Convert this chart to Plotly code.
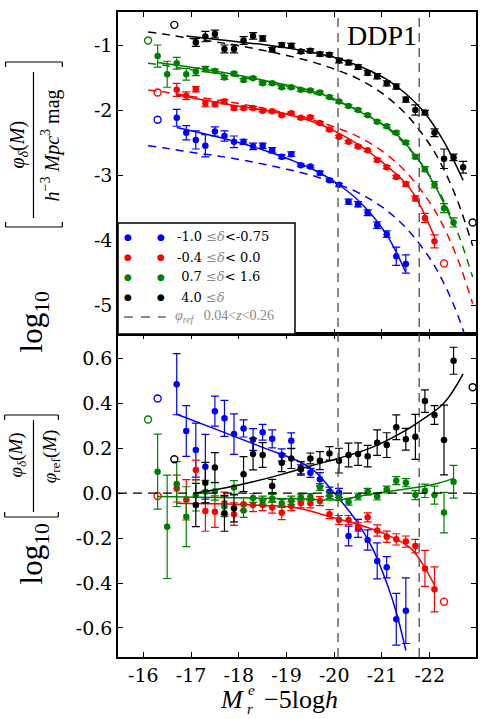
import plotly.graph_objects as go
from plotly.subplots import make_subplots

# ---------------- data ----------------
# --- black: 4.0 <= delta ---
bk_M = [-17.1, -17.3, -17.5, -17.7, -17.9, -18.1, -18.3, -18.5, -18.7, -18.9, -19.1, -19.3, -19.5, -19.7,
        -19.9, -20.1, -20.3, -20.5, -20.7, -20.9, -21.1, -21.3, -21.5, -21.7, -21.9, -22.1, -22.3, -22.5, -22.7]
bk_phi = [-0.96, -0.87, -0.83, -1.06, -1.06, -0.93, -0.86, -0.90, -1.07, -1.00, -1.01, -1.10, -1.09, -1.14,
          -1.15, -1.24, -1.27, -1.34, -1.43, -1.48, -1.59, -1.64, -1.84, -2.00, -2.04, -2.35, -2.75, -2.73, -2.88]
bk_phi_err = [0.06, 0.08, 0.06, 0.06, 0.06, 0.06, 0.05, 0.04, 0.035, 0.035, 0.035, 0.03, 0.03, 0.03,
              0.03, 0.035, 0.035, 0.035, 0.035, 0.04, 0.04, 0.04, 0.04, 0.08, 0.035, 0.06, 0.15, 0.05, 0.09]
bk_rM = bk_M[:-1]
bk_ratio = [-0.053, 0.046, 0.113, -0.09, -0.068, 0.084, 0.173, 0.169, 0.031, 0.135, 0.154, 0.11, 0.154, 0.144,
            0.176, 0.144, 0.169, 0.173, 0.164, 0.224, 0.213, 0.292, 0.239, 0.25, 0.409, 0.347, 0.236, 0.588]
bk_ratio_err = [0.096, 0.09, 0.067, 0.08, 0.06, 0.078, 0.07, 0.055, 0.03, 0.04, 0.045, 0.03, 0.024, 0.04,
                0.03, 0.055, 0.053, 0.05, 0.048, 0.057, 0.055, 0.055, 0.048, 0.1, 0.05, 0.042, 0.155, 0.06]
bk_open_M = [-16.65, -22.9]
bk_open_phi = [-0.69, -3.73]
bk_open_ratio = [0.15, 0.47]
bk_fit_M = [-16.9, -17.5, -18.1, -18.7, -19.3, -19.9, -20.3, -20.7, -21.1, -21.5, -21.9, -22.3, -22.7]
bk_fit_phi = [-0.86, -0.91, -0.96, -1.01, -1.08, -1.17, -1.26, -1.38, -1.53, -1.75, -2.05, -2.49, -3.08]
bk_rfit_M = [-17.1, -17.7, -18.3, -18.9, -19.5, -20.1, -20.7, -21.3, -21.8, -22.3, -22.7]
bk_rfit = [0.0, 0.022, 0.05, 0.083, 0.12, 0.155, 0.195, 0.255, 0.32, 0.40, 0.53]

# --- green: 0.7 <= delta < 1.6 ---
gr_M = [-16.3, -16.5, -16.7, -16.9, -17.1, -17.3, -17.5, -17.7, -17.9, -18.1, -18.3, -18.5, -18.7, -18.9,
        -19.1, -19.3, -19.5, -19.7, -19.9, -20.1, -20.3, -20.5, -20.7, -20.9, -21.1, -21.3, -21.5, -21.7,
        -21.9, -22.1, -22.3, -22.5]
gr_phi = [-1.17, -1.45, -1.28, -1.45, -1.41, -1.37, -1.40, -1.50, -1.44, -1.54, -1.51, -1.59, -1.59, -1.65,
          -1.65, -1.69, -1.70, -1.73, -1.80, -1.87, -1.94, -2.00, -2.08, -2.18, -2.25, -2.35, -2.50, -2.72,
          -2.91, -3.15, -3.51, -3.73]
gr_phi_err = [0.17, 0.2, 0.09, 0.09, 0.06, 0.04, 0.03, 0.03, 0.025, 0.025, 0.02, 0.02, 0.02, 0.02,
              0.02, 0.02, 0.02, 0.02, 0.02, 0.02, 0.02, 0.02, 0.02, 0.02, 0.025, 0.025, 0.025, 0.03,
              0.04, 0.05, 0.07, 0.07]
gr_ratio = [0.095, -0.15, 0.04, -0.105, -0.01, 0.006, 0.008, -0.06, 0.025, -0.078, -0.022, -0.034, -0.024, -0.046,
            -0.032, -0.02, -0.018, 0.027, -0.01, -0.019, -0.039, -0.016, 0.006, -0.016, 0.016, 0.055, 0.046, -0.009,
            0.01, -0.009, -0.087, 0.05]
gr_ratio_err = [0.167, 0.23, 0.1, 0.133, 0.07, 0.05, 0.04, 0.045, 0.03, 0.03, 0.02, 0.02, 0.018, 0.018,
                0.018, 0.015, 0.015, 0.015, 0.015, 0.015, 0.015, 0.015, 0.015, 0.015, 0.015, 0.018, 0.018, 0.02,
                0.03, 0.04, 0.09, 0.073]
gr_open_M = [-16.1]
gr_open_phi = [-0.93]
gr_open_ratio = [0.327]
gr_fit_M = [-16.3, -16.9, -17.5, -18.1, -18.7, -19.3, -19.9, -20.3, -20.9, -21.3, -21.7, -22.1, -22.5]
gr_fit_phi = [-1.27, -1.33, -1.40, -1.48, -1.57, -1.66, -1.80, -1.94, -2.17, -2.37, -2.70, -3.15, -3.76]
gr_rfit_M = [-16.3, -17.5, -18.5, -19.3, -20.1, -20.5, -20.9, -21.4, -21.8, -22.2, -22.5]
gr_rfit = [-0.015, -0.02, -0.023, -0.026, -0.03, -0.015, 0.0, 0.015, 0.028, 0.045, 0.065]

# --- red: -0.4 <= delta < 0.0 ---
rd_M = [-16.7, -16.9, -17.1, -17.3, -17.5, -17.7, -17.9, -18.1, -18.3, -18.5, -18.7, -18.9, -19.1, -19.3,
        -19.5, -19.7, -19.9, -20.1, -20.3, -20.5, -20.7, -20.9, -21.1, -21.3, -21.5, -21.7, -21.9, -22.1]
rd_phi = [-1.69, -1.78, -1.68, -1.90, -1.91, -1.87, -1.97, -1.97, -1.97, -2.01, -2.02, -2.08, -2.05, -2.12,
          -2.11, -2.20, -2.30, -2.41, -2.49, -2.56, -2.62, -2.77, -2.88, -3.03, -3.14, -3.36, -3.66, -4.02]
rd_phi_err = [0.10, 0.06, 0.04, 0.05, 0.04, 0.035, 0.03, 0.025, 0.025, 0.02, 0.02, 0.02, 0.02, 0.02,
              0.02, 0.02, 0.02, 0.02, 0.02, 0.02, 0.02, 0.025, 0.025, 0.025, 0.03, 0.04, 0.07, 0.10]
rd_ratio = [0.02, -0.03, 0.102, -0.08, -0.083, -0.046, -0.094, -0.05, -0.053, -0.053, -0.064, -0.088, -0.058, -0.046,
            -0.046, -0.036, -0.094, -0.12, -0.12, -0.15, -0.108, -0.167, -0.194, -0.206, -0.216, -0.236, -0.335, -0.428]
rd_ratio_err = [0.06, 0.09, 0.044, 0.09, 0.07, 0.05, 0.05, 0.03, 0.03, 0.025, 0.025, 0.03, 0.02, 0.02,
                0.02, 0.02, 0.02, 0.02, 0.02, 0.02, 0.02, 0.025, 0.025, 0.025, 0.025, 0.03, 0.08, 0.1]
rd_open_M = [-16.3, -22.3]
rd_open_phi = [-1.73, -4.36]
rd_open_ratio = [-0.013, -0.483]
rd_fit_M = [-16.7, -17.3, -17.9, -18.5, -19.1, -19.7, -20.1, -20.5, -21.1, -21.5, -21.7, -21.9, -22.1]
rd_fit_phi = [-1.77, -1.85, -1.93, -2.00, -2.08, -2.22, -2.36, -2.53, -2.86, -3.13, -3.33, -3.62, -3.95]
rd_rfit_M = [-16.7, -17.5, -18.5, -19.2, -19.9, -20.5, -21.1, -21.6, -21.85, -22.1]
rd_rfit = [-0.045, -0.048, -0.055, -0.065, -0.105, -0.14, -0.185, -0.245, -0.315, -0.41]

# --- blue: -1.0 <= delta < -0.75 ---
bl_M = [-16.7, -16.9, -17.1, -17.3, -17.5, -17.7, -17.9, -18.1, -18.3, -18.5, -18.7, -18.9, -19.1, -19.3,
        -19.5, -19.7, -19.9, -20.1, -20.3, -20.5, -20.7, -20.9, -21.1, -21.3, -21.5]
bl_phi = [-2.12, -2.35, -2.46, -2.55, -2.33, -2.40, -2.49, -2.49, -2.56, -2.55, -2.62, -2.72, -2.68, -2.85,
          -2.87, -2.97, -3.08, -3.15, -3.41, -3.45, -3.58, -3.77, -3.91, -4.25, -4.37]
bl_phi_err = [0.13, 0.11, 0.14, 0.17, 0.07, 0.08, 0.09, 0.04, 0.05, 0.04, 0.04, 0.03, 0.035, 0.02,
              0.02, 0.03, 0.02, 0.02, 0.04, 0.04, 0.045, 0.05, 0.05, 0.14, 0.14]
bl_ratio = [0.484, 0.276, 0.191, 0.117, 0.364, 0.332, 0.262, 0.287, 0.238, 0.27, 0.241, 0.169, 0.232, 0.105,
            0.09, 0.061, 0.006, 0.001, -0.191, -0.157, -0.209, -0.302, -0.33, -0.561, -0.523]
bl_ratio_err = [0.136, 0.113, 0.12, 0.144, 0.067, 0.08, 0.09, 0.038, 0.048, 0.035, 0.04, 0.027, 0.035, 0.02,
                0.02, 0.03, 0.02, 0.02, 0.044, 0.04, 0.045, 0.08, 0.047, 0.115, 0.146]
bl_open_M = [-16.3]
bl_open_phi = [-2.15]
bl_open_ratio = [0.42]
bl_fit_M = [-16.7, -17.3, -17.9, -18.5, -19.1, -19.6, -20.1, -20.6, -21.1, -21.5]
bl_fit_phi = [-2.27, -2.37, -2.48, -2.61, -2.77, -2.93, -3.15, -3.46, -3.92, -4.50]
bl_rfit_M = [-16.7, -17.5, -18.5, -19.3, -19.6, -19.9, -20.2, -20.5, -20.8, -21.1, -21.3, -21.5]
bl_rfit = [0.35, 0.285, 0.203, 0.137, 0.095, 0.025, -0.05, -0.135, -0.245, -0.40, -0.53, -0.70]

# --- reference LF (dashed), rescaled to each sample ---
ref_M = [-16.1, -16.5, -17.0, -17.5, -18.0, -18.5, -19.0, -19.5, -20.0, -20.5, -21.0, -21.5, -22.0, -22.3, -22.6, -22.9]
ref_bk = [-0.80, -0.84, -0.90, -0.95, -1.01, -1.08, -1.16, -1.25, -1.37, -1.52, -1.74, -2.06, -2.53, -2.92, -3.43, -4.09]
ref_gr = [-1.28, -1.32, -1.38, -1.43, -1.49, -1.56, -1.64, -1.73, -1.85, -2.00, -2.22, -2.54, -3.01, -3.40, -3.91, -4.57]
ref_rd = [-1.69, -1.73, -1.79, -1.84, -1.90, -1.97, -2.05, -2.14, -2.26, -2.41, -2.63, -2.95, -3.42, -3.81, -4.32, -4.98]
ref_bl = [-2.55, -2.59, -2.65, -2.70, -2.76, -2.83, -2.91, -3.00, -3.12, -3.27, -3.49, -3.81, -4.28, -4.67, -5.18, -5.84]

# completeness limits (vertical dashed lines)
mag_limits = [-20.08, -21.78]

# ticks
x_ticks = [-16, -17, -18, -19, -20, -21, -22]
x_ticklabels = ["-16", "-17", "-18", "-19", "-20", "-21", "-22"]
top_ticks = [-1, -2, -3, -4, -5]
top_ticklabels = ["-1", "-2", "-3", "-4", "-5"]
bot_ticks = [0.6, 0.4, 0.2, 0.0, -0.2, -0.4, -0.6]
bot_ticklabels = ["0.6", "0.4", "0.2", "0.0", "-0.2", "-0.4", "-0.6"]

legend_labels = [
    "-1.0 <span style='color:#8a8a8a'>≤<i>δ</i></span>&lt;-0.75",
    "-0.4 <span style='color:#8a8a8a'>≤<i>δ</i></span>&lt; 0.0",
    " 0.7 <span style='color:#8a8a8a'>≤<i>δ</i></span>&lt; 1.6",
    " 4.0 <span style='color:#8a8a8a'>≤<i>δ</i></span>",
]

# ---------------- geometry ----------------
W, H = 483, 719
ML, MR, MT, MB = 118, 5, 12, 62
PW, PH = W - ML - MR, H - MT - MB


def px(x):
    return (x - ML) / PW


def py(y):
    return (H - MB - y) / PH


BLUE, RED, GREEN, BLACK = "#0000ff", "#ff0000", "#008000", "#000000"
SERIF = "Liberation Serif"
TICKFONT = dict(family="DejaVu Serif", size=19, color="black")

fig = make_subplots(rows=2, cols=1, shared_xaxes=True, vertical_spacing=0,
                    row_heights=[322 / 645, 323 / 645])

samples = [
    (BLUE, bl_M, bl_phi, bl_phi_err, bl_ratio, bl_ratio_err, bl_open_M, bl_open_phi, bl_open_ratio,
     bl_fit_M, bl_fit_phi, bl_rfit_M, bl_rfit, ref_bl),
    (RED, rd_M, rd_phi, rd_phi_err, rd_ratio, rd_ratio_err, rd_open_M, rd_open_phi, rd_open_ratio,
     rd_fit_M, rd_fit_phi, rd_rfit_M, rd_rfit, ref_rd),
    (GREEN, gr_M, gr_phi, gr_phi_err, gr_ratio, gr_ratio_err, gr_open_M, gr_open_phi, gr_open_ratio,
     gr_fit_M, gr_fit_phi, gr_rfit_M, gr_rfit, ref_gr),
    (BLACK, bk_M, bk_phi, bk_phi_err, bk_ratio, bk_ratio_err, bk_open_M, bk_open_phi, bk_open_ratio,
     bk_fit_M, bk_fit_phi, bk_rfit_M, bk_rfit, ref_bk),
]

for (col, M, phi, phie, rat, rate, oM, ophi, orat, fM, fphi, rfM, rf, ref) in samples:
    rM = M if col != BLACK else bk_rM
    # reference (dashed) in top panel
    fig.add_trace(go.Scatter(x=ref_M, y=ref, mode="lines", showlegend=False,
                             line=dict(color=col, width=1.5, dash="8px,6px", shape="spline")), row=1, col=1)
    # fits
    fig.add_trace(go.Scatter(x=fM, y=fphi, mode="lines", showlegend=False,
                             line=dict(color=col, width=1.5, shape="spline")), row=1, col=1)
    fig.add_trace(go.Scatter(x=rfM, y=rf, mode="lines", showlegend=False,
                             line=dict(color=col, width=1.5, shape="spline")), row=2, col=1)
    # data
    fig.add_trace(go.Scatter(x=M, y=phi, mode="markers", showlegend=False,
                             marker=dict(color=col, size=6.5),
                             error_y=dict(type="data", array=phie, color=col, thickness=1.2, width=4)),
                  row=1, col=1)
    fig.add_trace(go.Scatter(x=rM, y=rat, mode="markers", showlegend=False,
                             marker=dict(color=col, size=6.5),
                             error_y=dict(type="data", array=rate, color=col, thickness=1.2, width=4)),
                  row=2, col=1)
    # open circles
    fig.add_trace(go.Scatter(x=oM, y=ophi, mode="markers", showlegend=False,
                             marker=dict(symbol="circle-open", color=col, size=7, line=dict(width=1.4))),
                  row=1, col=1)
    fig.add_trace(go.Scatter(x=oM, y=orat, mode="markers", showlegend=False,
                             marker=dict(symbol="circle-open", color=col, size=7, line=dict(width=1.4))),
                  row=2, col=1)

axis_common = dict(ticks="inside", ticklen=5, tickwidth=1, tickcolor="black", showline=True,
                   linecolor="black", linewidth=1.5, mirror="ticks", showgrid=False, zeroline=False,
                   tickfont=TICKFONT)
fig.update_xaxes(range=[-15.47, -22.97], tickvals=x_ticks, ticktext=x_ticklabels, **axis_common)
fig.update_xaxes(showticklabels=False, row=1, col=1)
fig.update_yaxes(range=[-5.446, -0.492], tickvals=top_ticks, ticktext=top_ticklabels, row=1, col=1,
                 **axis_common)
fig.update_yaxes(range=[-0.729, 0.707], tickvals=bot_ticks, ticktext=bot_ticklabels, row=2, col=1,
                 **axis_common)

shapes = []
# completeness limits through both panels
for m in mag_limits:
    shapes.append(dict(type="line", xref="x", yref="paper", x0=m, x1=m, y0=0, y1=1,
                       line=dict(color="#4d4d4d", width=1.3, dash="9px,6px")))
# zero line in ratio panel
shapes.append(dict(type="line", xref="paper", yref="y2", x0=0, x1=1, y0=0, y1=0,
                   line=dict(color="black", width=1.3, dash="9px,6px")))

# legend box
shapes.append(dict(type="rect", xref="paper", yref="paper", x0=px(118), x1=px(296), y0=py(334), y1=py(223),
                   line=dict(color="black", width=1.5), fillcolor="white", layer="above"))
shapes.append(dict(type="line", xref="paper", yref="paper", x0=px(124), x1=px(166), y0=py(317), y1=py(317),
                   line=dict(color="#8a8a8a", width=2.2, dash="9px,8px"), layer="above"))

annotations = []
leg_rows = [237, 257, 277, 297]
for (col, lab, yy) in zip([BLUE, RED, GREEN, BLACK], legend_labels, leg_rows):
    for xx in (128, 161):
        annotations.append(dict(x=px(xx), y=py(yy), xref="paper", yref="paper", text="●", showarrow=False,
                                font=dict(family="DejaVu Sans", size=9, color=col),
                                xanchor="center", yanchor="middle"))
    annotations.append(dict(x=px(176), y=py(yy), xref="paper", yref="paper", text=lab, showarrow=False,
                            font=dict(family="DejaVu Serif", size=13, color="black"),
                            xanchor="left", yanchor="middle"))
annotations.append(dict(x=px(174), y=py(317), xref="paper", yref="paper",
                        text="<i>φ<sub>ref</sub></i>   0.04&lt;<i>z</i>&lt;0.26", showarrow=False,
                        font=dict(family=SERIF, size=14, color="#8a8a8a"), xanchor="left", yanchor="middle"))

# panel label
annotations.append(dict(x=px(383), y=py(35), xref="paper", yref="paper", text="DDP1", showarrow=False,
                        font=dict(family=SERIF, size=28, color="black"), xanchor="center", yanchor="middle"))

# x-axis title  (M with stacked super/subscript, then -5 log h)
annotations += [
    dict(x=px(246), y=py(699), text="<i>M</i>", font=dict(family=SERIF, size=26, color="black"),
         xanchor="right"),
    dict(x=px(248), y=py(690), text="<i>e</i>", font=dict(family=SERIF, size=15, color="black"),
         xanchor="left"),
    dict(x=px(247), y=py(709), text="<i>r</i>", font=dict(family=SERIF, size=15, color="black"),
         xanchor="left"),
    dict(x=px(264), y=py(699), text="−5log<i>h</i>", font=dict(family=SERIF, size=26, color="black"),
         xanchor="left"),
]

# y-axis title (top): log10 [ phi_delta(M) / h^-3 Mpc^3 mag ]
annotations += [
    dict(x=px(34), y=py(322), text="log<sub>10</sub>", textangle=-90,
         font=dict(family=SERIF, size=31, color="black")),
    dict(x=px(17), y=py(145), text="<i>φ<sub>δ</sub></i>(<i>M</i>)", textangle=-90,
         font=dict(family=SERIF, size=20, color="black")),
    dict(x=px(50), y=py(145), text="<i>h</i><sup>−3</sup> <i>Mpc</i><sup>3</sup> mag", textangle=-90,
         font=dict(family=SERIF, size=20, color="black")),
]
# y-axis title (bottom): log10 [ phi_delta(M) / phi_ref(M) ]
annotations += [
    dict(x=px(34), y=py(554), text="log<sub>10</sub>", textangle=-90,
         font=dict(family=SERIF, size=31, color="black")),
    dict(x=px(16), y=py(455), text="<i>φ<sub>δ</sub></i>(<i>M</i>)", textangle=-90,
         font=dict(family=SERIF, size=19, color="black")),
    dict(x=px(51), y=py(456), text="<i>φ</i><sub>ref</sub>(<i>M</i>)", textangle=-90,
         font=dict(family=SERIF, size=19, color="black")),
]
for a in annotations:
    a.setdefault("xref", "paper")
    a.setdefault("yref", "paper")
    a.setdefault("showarrow", False)
    a.setdefault("xanchor", "center")
    a.setdefault("yanchor", "middle")
    a.setdefault("borderpad", 0)

# fraction bars and brackets of the y titles
def vline(x, y0, y1):
    return dict(type="line", xref="paper", yref="paper", x0=px(x), x1=px(x), y0=py(y0), y1=py(y1),
                line=dict(color="black", width=1.2))


def hline(x0, x1, y):
    return dict(type="line", xref="paper", yref="paper", x0=px(x0), x1=px(x1), y0=py(y), y1=py(y),
                line=dict(color="black", width=1.2))


for (ytop, ybot, fy0, fy1, xl, xr) in [(62, 227, 72, 218, 5, 62), (415, 517, 420, 512, 4, 58)]:
    shapes.append(vline(33, fy0, fy1))
    shapes.append(hline(xl, xr, ytop))
    shapes.append(vline(xl, ytop, ytop + 5))
    shapes.append(vline(xr, ytop, ytop + 5))
    shapes.append(hline(xl, xr, ybot))
    shapes.append(vline(xl, ybot, ybot - 5))
    shapes.append(vline(xr, ybot, ybot - 5))

fig.update_layout(width=W, height=H, margin=dict(l=ML, r=MR, t=MT, b=MB),
                  plot_bgcolor="white", paper_bgcolor="white", showlegend=False,
                  shapes=shapes, annotations=annotations)

fig.write_html("out.html")
